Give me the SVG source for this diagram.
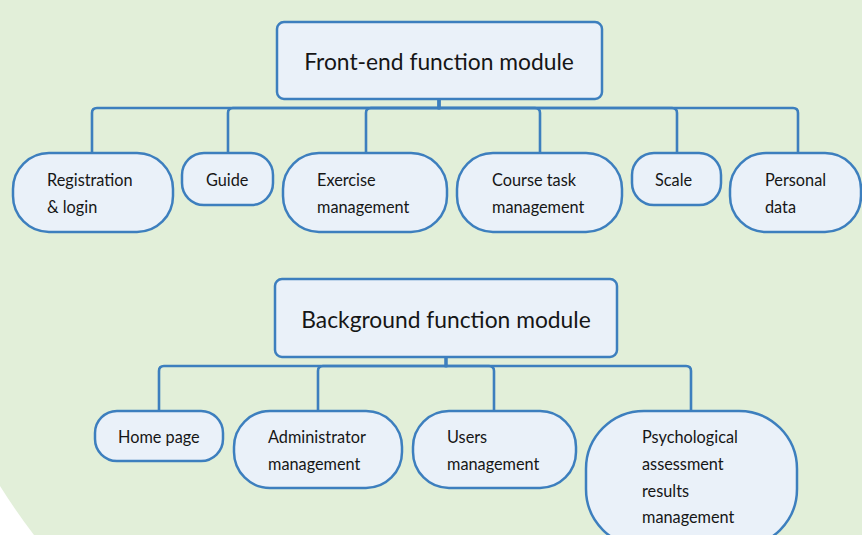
<svg xmlns="http://www.w3.org/2000/svg" width="862" height="535" viewBox="0 0 862 535">
  <style>
    .node { fill: #eaf1f9; stroke: #3d7fbe; stroke-width: 2.5; }
    .link { fill: none; stroke: #3d7fbe; stroke-width: 2.6; }
    .label { font-family: Lato, "Open Sans", sans-serif; font-size: 16.3px; fill: #161616; }
    .title { font-family: Lato, "Open Sans", sans-serif; font-size: 22.8px; fill: #161616; text-anchor: middle; }
  </style>

  <!-- page background -->
  <rect x="0" y="0" width="862" height="535" fill="#e2efd9"/>
  <path d="M0,486 A640,640 0 0 0 34,535 L0,535 Z" fill="#ffffff"/>

  <!-- elbow connectors -->
  <g id="connectors">
    <path class="link" d="M439,99 V108 H97 Q92,108 92,113 V153"/>
    <path class="link" d="M439,99 V108 H233 Q228,108 228,113 V153"/>
    <path class="link" d="M439,99 V108 H371 Q366,108 366,113 V153"/>
    <path class="link" d="M439,99 V108 H535 Q540,108 540,113 V153"/>
    <path class="link" d="M439,99 V108 H672 Q677,108 677,113 V153"/>
    <path class="link" d="M439,99 V108 H793 Q798,108 798,113 V153"/>

    <path class="link" d="M446,357 V366 H164 Q159,366 159,371 V411"/>
    <path class="link" d="M446,357 V366 H323 Q318,366 318,371 V411"/>
    <path class="link" d="M446,357 V366 H489 Q494,366 494,371 V411"/>
    <path class="link" d="M446,357 V366 H686 Q691,366 691,371 V411"/>
  </g>

  <!-- front-end tree -->
  <g id="frontend">
    <rect class="node" x="277" y="22" width="325" height="77" rx="7"/>
    <text class="title" x="439" y="70">Front-end function module</text>
  </g>
  <g id="registration">
    <rect class="node" x="13" y="153" width="160" height="79" rx="36"/>
    <text class="label" x="47" y="186">Registration</text>
    <text class="label" x="47" y="213">&amp; login</text>
  </g>
  <g id="guide">
    <rect class="node" x="182" y="153" width="91" height="52" rx="22"/>
    <text class="label" x="206" y="186">Guide</text>
  </g>
  <g id="exercise">
    <rect class="node" x="283" y="153" width="164" height="79" rx="36"/>
    <text class="label" x="317" y="186">Exercise</text>
    <text class="label" x="317" y="213">management</text>
  </g>
  <g id="course-task">
    <rect class="node" x="457" y="153" width="165" height="79" rx="36"/>
    <text class="label" x="492" y="186">Course task</text>
    <text class="label" x="492" y="213">management</text>
  </g>
  <g id="scale">
    <rect class="node" x="632" y="153" width="89" height="52" rx="22"/>
    <text class="label" x="655" y="186">Scale</text>
  </g>
  <g id="personal-data">
    <rect class="node" x="730" y="153" width="131" height="79" rx="36"/>
    <text class="label" x="765" y="186">Personal</text>
    <text class="label" x="765" y="213">data</text>
  </g>

  <!-- background tree -->
  <g id="background">
    <rect class="node" x="275" y="279" width="342" height="78" rx="7"/>
    <text class="title" x="446" y="328">Background function module</text>
  </g>
  <g id="home-page">
    <rect class="node" x="95" y="411" width="128" height="50" rx="22"/>
    <text class="label" x="118" y="443">Home page</text>
  </g>
  <g id="administrator">
    <rect class="node" x="234" y="411" width="168" height="77" rx="36"/>
    <text class="label" x="268" y="443">Administrator</text>
    <text class="label" x="268" y="470">management</text>
  </g>
  <g id="users">
    <rect class="node" x="413" y="411" width="163" height="77" rx="36"/>
    <text class="label" x="447" y="443">Users</text>
    <text class="label" x="447" y="470">management</text>
  </g>
  <g id="assessment">
    <rect class="node" x="586" y="411" width="211" height="136" rx="58"/>
    <text class="label" x="642" y="443">Psychological</text>
    <text class="label" x="642" y="470">assessment</text>
    <text class="label" x="642" y="497">results</text>
    <text class="label" x="642" y="523">management</text>
  </g>
</svg>
